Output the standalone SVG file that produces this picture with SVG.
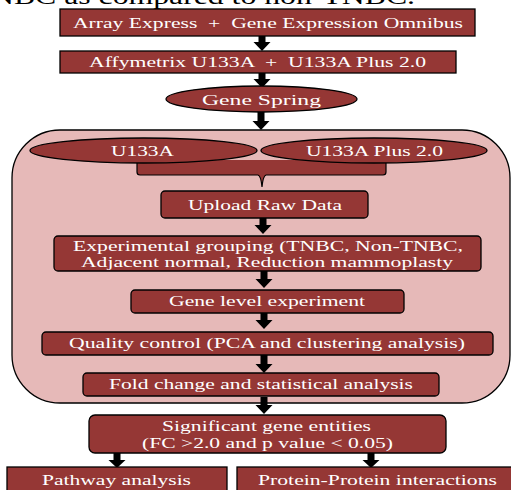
<svg xmlns="http://www.w3.org/2000/svg" width="511" height="490" viewBox="0 0 511 490">
<style>
.box{fill:#953735;stroke:#000;stroke-width:1.3}
.big{fill:#e6b9b8;stroke:#000;stroke-width:1.3}
.t{fill:#fff;font-family:"Liberation Serif","Times New Roman",serif;font-size:15px;white-space:pre}
.cap{fill:#000;font-family:"Liberation Serif","Times New Roman",serif;font-size:24px}
.arr{fill:#000}
</style>
<rect width="511" height="490" fill="#fff"/>
<text class="cap" x="-9" y="4" textLength="424" lengthAdjust="spacingAndGlyphs">NBC as compared to non-TNBC.</text>
<g id="container">
<rect class="big" x="12" y="130" width="498" height="273" rx="48" ry="48"/>
</g>
<g id="connectors">
<polygon class="arr" points="258.5,36 265.5,36 265.5,42 270.5,42 262,51 253.5,42 258.5,42"/>
<polygon class="arr" points="258.5,73 265.5,73 265.5,79 270.5,79 262,88 253.5,79 258.5,79"/>
<polygon class="arr" points="257.5,112 264.5,112 264.5,121 269.5,121 261,130 252.5,121 257.5,121"/>
<polygon class="arr" points="259.5,218 266.5,218 266.5,225 271.5,225 263,234 254.5,225 259.5,225"/>
<polygon class="arr" points="260.5,271 267.5,271 267.5,279 272.5,279 264,288 255.5,279 260.5,279"/>
<polygon class="arr" points="260.5,313 267.5,313 267.5,320 272.5,320 264,329 255.5,320 260.5,320"/>
<polygon class="arr" points="260.5,355 267.5,355 267.5,364 272.5,364 264,373 255.5,364 260.5,364"/>
<polygon class="arr" points="260.5,397 267.5,397 267.5,405 272.5,405 264,414 255.5,405 260.5,405"/>
<polygon class="arr" points="113.5,453 120.5,453 120.5,460 125.5,460 117,468 108.5,460 113.5,460"/>
<polygon class="arr" points="367.5,453 374.5,453 374.5,460 379.5,460 371,468 362.5,460 367.5,460"/>
<path d="M137,160 V172 Q137,175 140,175 H258 Q261,176 262,187 Q263,176 266,175 H383 Q386,175 386,172 V160 Z" fill="#953735"/>
<path d="M137,160 V172 Q137,175 140,175 H258 Q261,176 262,187 Q263,176 266,175 H383 Q386,175 386,172 V160" fill="none" stroke="#000" stroke-width="1.2"/>
</g>
<g id="n1">
<rect class="box" x="60" y="9" width="415" height="27"/>
<text class="t" x="73" y="28" textLength="390" lengthAdjust="spacingAndGlyphs">Array Express  +  Gene Expression Omnibus</text>
</g>
<g id="n2">
<rect class="box" x="60" y="51" width="396" height="22"/>
<text class="t" x="89" y="67" textLength="337" lengthAdjust="spacingAndGlyphs">Affymetrix U133A  +  U133A Plus 2.0</text>
</g>
<g id="n3">
<ellipse class="box" cx="261.5" cy="99" rx="95.5" ry="13"/>
<text class="t" x="202" y="105" textLength="119" lengthAdjust="spacingAndGlyphs">Gene Spring</text>
</g>
<g id="n4">
<ellipse class="box" cx="143.5" cy="150.5" rx="113.5" ry="12.5"/>
<text class="t" x="111" y="156" textLength="63" lengthAdjust="spacingAndGlyphs">U133A</text>
</g>
<g id="n5">
<ellipse class="box" cx="374" cy="150.5" rx="113" ry="12.5"/>
<text class="t" x="306" y="156" textLength="137" lengthAdjust="spacingAndGlyphs">U133A Plus 2.0</text>
</g>
<g id="n6">
<rect class="box" x="161" y="191" width="207" height="27" rx="4"/>
<text class="t" x="188" y="210" textLength="154" lengthAdjust="spacingAndGlyphs">Upload Raw Data</text>
</g>
<g id="n7">
<rect class="box" x="54" y="236" width="427" height="35" rx="4"/>
<text class="t" x="73" y="251" textLength="390" lengthAdjust="spacingAndGlyphs">Experimental grouping (TNBC, Non-TNBC,</text>
<text class="t" x="81" y="267" textLength="372" lengthAdjust="spacingAndGlyphs">Adjacent normal, Reduction mammoplasty</text>
</g>
<g id="n8">
<rect class="box" x="131" y="290" width="273" height="23" rx="4"/>
<text class="t" x="169" y="306" textLength="196" lengthAdjust="spacingAndGlyphs">Gene level experiment</text>
</g>
<g id="n9">
<rect class="box" x="42" y="332" width="451" height="23" rx="4"/>
<text class="t" x="69" y="348" textLength="396" lengthAdjust="spacingAndGlyphs">Quality control (PCA and clustering analysis)</text>
</g>
<g id="n10">
<rect class="box" x="83" y="373" width="356" height="23" rx="4"/>
<text class="t" x="109" y="389" textLength="304" lengthAdjust="spacingAndGlyphs">Fold change and statistical analysis</text>
</g>
<g id="n11">
<rect class="box" x="89" y="415" width="357" height="38" rx="6"/>
<text class="t" x="162" y="431" textLength="209" lengthAdjust="spacingAndGlyphs">Significant gene entities</text>
<text class="t" x="142" y="448" textLength="251" lengthAdjust="spacingAndGlyphs">(FC &gt;2.0 and p value &lt; 0.05)</text>
</g>
<g id="n12">
<rect class="box" x="7" y="467" width="220" height="30"/>
<text class="t" x="42" y="485" textLength="149" lengthAdjust="spacingAndGlyphs">Pathway analysis</text>
</g>
<g id="n13">
<rect class="box" x="237" y="467" width="280" height="30"/>
<text class="t" x="258" y="485" textLength="239" lengthAdjust="spacingAndGlyphs">Protein-Protein interactions</text>
</g>
</svg>
